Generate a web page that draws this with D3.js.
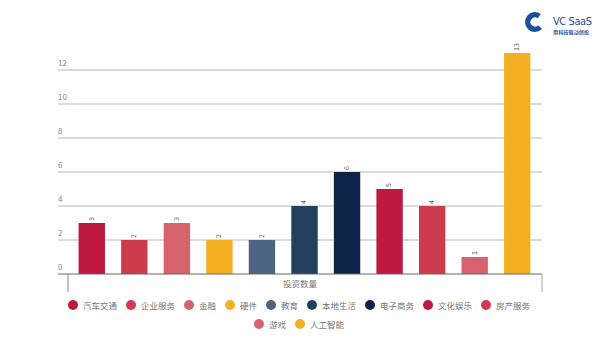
<!DOCTYPE html>
<html><head><meta charset="utf-8">
<script src="https://cdn.jsdelivr.net/npm/d3@7/dist/d3.min.js"></script>
<style>body{margin:0;background:#fff}svg{display:block;font-family:"Noto Sans CJK SC","Noto Sans",sans-serif}</style>
</head><body><svg id="c" width="600" height="357"></svg>
<script>
const categories = ["汽车交通","企业服务","金融","硬件","教育","本地生活","电子商务","文化娱乐","房产服务","游戏","人工智能"];
const values = [3,2,3,2,2,4,6,5,4,1,13];
const colors = ["#be1a3f","#cc3b4e","#d6616f","#f3b023","#4d6482","#22405f","#0d2347","#be1a3f","#cc3b4e","#d6616f","#f3b023"];
const yTicks = [0,2,4,6,8,10,12];
const axisTitle = "投资数量";

const svg = d3.select("#c");
const x = d3.scaleBand().domain(categories).range([70.5,538.5]).paddingInner(0.38).paddingOuter(0.19);
const y = d3.scaleLinear().domain([0,13]).range([274,53]);

// gridlines
svg.append("g").selectAll("line").data(yTicks.filter(d=>d>0)).join("line")
  .attr("x1",58).attr("x2",542).attr("y1",d=>y(d)).attr("y2",d=>y(d))
  .attr("stroke","#d0d0d0").attr("stroke-width",1.3);
// tick labels
svg.append("g").selectAll("text").data(yTicks).join("text")
  .attr("x",58).attr("y",d=>y(d)-4).text(d=>d)
  .attr("font-size",8).attr("fill","#888");

// bars
svg.append("g").selectAll("rect").data(values).join("rect")
  .attr("x",(d,i)=>x(categories[i])).attr("width",x.bandwidth())
  .attr("y",d=>y(d)).attr("height",d=>y(0)-y(d))
  .attr("fill",(d,i)=>colors[i]);
// value labels
svg.append("g").selectAll("text").data(values).join("text")
  .attr("transform",(d,i)=>`translate(${x(categories[i])+x.bandwidth()/2},${y(d)-2}) rotate(-90)`)
  .attr("text-anchor","start").attr("dominant-baseline","middle")
  .attr("font-size",7).attr("fill","#666").text(d=>d);

// baseline
svg.append("line").attr("x1",58).attr("x2",542).attr("y1",274).attr("y2",274).attr("stroke","#666").attr("stroke-width",1.2);
svg.append("line").attr("x1",68).attr("x2",68).attr("y1",274).attr("y2",292).attr("stroke","#888").attr("stroke-width",1);
svg.append("line").attr("x1",542).attr("x2",542).attr("y1",274).attr("y2",292).attr("stroke","#aaa").attr("stroke-width",1);
svg.append("text").attr("x",300).attr("y",287).attr("text-anchor","middle").attr("font-size",8.5).attr("fill","#777").text(axisTitle);

// legend
const rows = [categories.slice(0,9).map((c,i)=>i), [9,10]];
const rowY = [305,324];
rows.forEach((idxs,r)=>{
  const g = svg.append("g");
  let cx = 0;
  const items = [];
  idxs.forEach(i=>{
    const w = categories[i].length*8.5;
    items.push({i,cx,w});
    cx += 10 + 5 + w + 9;
  });
  const total = cx - 9;
  const start = 299 - total/2;
  items.forEach(it=>{
    g.append("circle").attr("cx",start+it.cx+5).attr("cy",rowY[r]).attr("r",5).attr("fill",colors[it.i]);
    g.append("text").attr("x",start+it.cx+15).attr("y",rowY[r]).attr("dominant-baseline","central")
      .attr("font-size",8.5).attr("fill","#777").text(categories[it.i]);
  });
});

// logo
const lg = svg.append("g").attr("transform","translate(535,22)");
lg.append("path").attr("d",d3.arc().innerRadius(4.5).outerRadius(10).startAngle(Math.PI*0.75).endAngle(Math.PI*2.2)()).attr("fill","#1d4f9c");
svg.append("text").attr("x",553).attr("y",25).attr("font-size",11).attr("fill","#1d4f9c").attr("font-family","DejaVu Sans Condensed, Liberation Sans").attr("textLength",39).text("VC  SaaS");
svg.append("text").attr("x",553).attr("y",34).attr("font-size",5).attr("fill","#1d4f9c").attr("font-weight","bold").attr("textLength",36).text("用科技驱动创投");
</script></body></html>
